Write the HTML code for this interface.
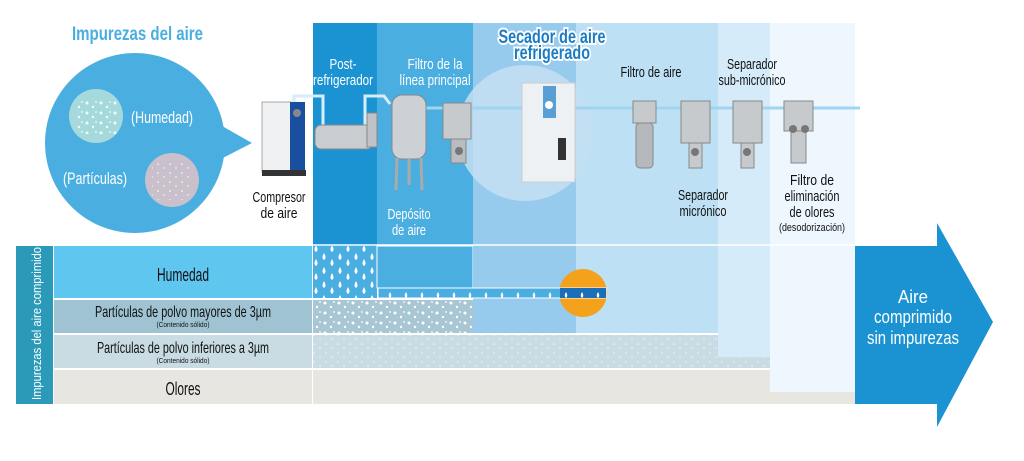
<!DOCTYPE html>
<html><head><meta charset="utf-8"><style>
html,body{margin:0;padding:0;background:#fff;width:1024px;height:461px;overflow:hidden}
svg{display:block;font-family:"Liberation Sans",sans-serif}
</style></head><body>
<svg width="1024" height="461" viewBox="0 0 1024 461" xmlns="http://www.w3.org/2000/svg">
<defs>
<pattern id="drops" width="16" height="14" patternUnits="userSpaceOnUse">
<path d="M4 1 q3 5 0 7 q-3 -2 0 -7z" fill="#fff"/>
<path d="M12 7 q3 5 0 7 q-3 -2 0 -7z" fill="#fff"/>
</pattern>
<pattern id="drops2" width="16" height="10" patternUnits="userSpaceOnUse">
<path d="M6 2 q2.5 4 0 6 q-2.5 -2 0 -6z" fill="#fff"/>
</pattern>
<pattern id="big" width="14" height="10" patternUnits="userSpaceOnUse">
<circle cx="3" cy="3" r="1.5" fill="#fff"/><circle cx="9" cy="7" r="1.2" fill="#fff"/><circle cx="12" cy="2" r="0.9" fill="#fff"/>
</pattern>
<pattern id="small" width="12" height="9" patternUnits="userSpaceOnUse">
<circle cx="2" cy="2" r="0.8" fill="#fff"/><circle cx="8" cy="6" r="0.7" fill="#fff"/>
</pattern>
</defs>
<rect width="1024" height="461" fill="#fff"/>
<rect x="313" y="23" width="64" height="223" fill="#1b93d3"/>
<rect x="377" y="23" width="96" height="223" fill="#4aaee0"/>
<rect x="473" y="23" width="103" height="223" fill="#97cbee"/>
<rect x="576" y="23" width="142" height="310" fill="#bde0f5"/>
<rect x="718" y="23" width="52" height="334" fill="#d5ebf9"/>
<rect x="770" y="23" width="85" height="369" fill="#eef7fe"/>
<circle cx="525" cy="133" r="68" fill="#c4dff2" opacity="0.85"/>
<line x1="313" y1="245" x2="855" y2="245" stroke="#fff" stroke-width="1.5"/>
<circle cx="135" cy="143" r="90" fill="#4aaee0"/>
<path d="M215 122 L252 143 L215 162z" fill="#4aaee0"/>
<circle cx="96" cy="116" r="27" fill="#a5d9dc"/>
<rect x="75" y="98" width="44" height="36" fill="url(#big)" opacity=".9"/>
<circle cx="172" cy="180" r="27" fill="#c9c0cc"/>
<rect x="152" y="162" width="40" height="38" fill="url(#small)"/>
<text x="72" y="40" font-size="19" font-weight="bold" fill="#4aaee0" textLength="131" lengthAdjust="spacingAndGlyphs">Impurezas del aire</text>
<text x="131" y="123" font-size="17" fill="#fff" textLength="62" lengthAdjust="spacingAndGlyphs">(Humedad)</text>
<text x="63" y="184" font-size="17" fill="#fff" textLength="64" lengthAdjust="spacingAndGlyphs">(Partículas)</text>
<path d="M294 102 V96 H323 V125 M365 125 V96 H384 L390 104" fill="none" stroke="#d6eefa" stroke-width="3"/>
<line x1="425" y1="108" x2="860" y2="108" stroke="#9fd5f0" stroke-width="3"/>
<rect x="262" y="102" width="29" height="70" fill="#eef0f2" stroke="#aaa"/>
<rect x="290" y="102" width="15" height="70" fill="#1a4f9f"/>
<circle cx="297" cy="113" r="4" fill="#888"/>
<rect x="262" y="170" width="44" height="6" fill="#333"/>
<rect x="315" y="125" width="58" height="24" rx="6" fill="#c9ccd0" stroke="#888"/>
<rect x="367" y="113" width="10" height="34" fill="#bfc2c6" stroke="#888"/>
<rect x="392" y="95" width="34" height="64" rx="10" fill="#cdd0d4" stroke="#888"/>
<path d="M397 158 L396 190 M421 158 L422 190 M409 158 V185" stroke="#aaa" stroke-width="3"/>
<rect x="443" y="103" width="28" height="36" fill="#c7cacd" stroke="#888"/>
<rect x="451" y="139" width="15" height="24" fill="#b9bcc0" stroke="#888"/>
<circle cx="459" cy="151" r="4" fill="#777"/>
<rect x="522" y="83" width="53" height="99" fill="#eef1f3" stroke="#ccc"/>
<rect x="543" y="86" width="13" height="32" fill="#5a9fd4"/>
<circle cx="549" cy="105" r="4" fill="#fff"/>
<rect x="558" y="138" width="8" height="22" fill="#333"/>
<rect x="633" y="101" width="23" height="22" fill="#c7cacd" stroke="#888"/>
<rect x="636" y="123" width="17" height="45" rx="4" fill="#b5b8bc" stroke="#888"/>
<g fill="#c7cacd" stroke="#888">
<rect x="681" y="101" width="29" height="42"/><rect x="689" y="143" width="13" height="25"/>
<rect x="733" y="101" width="29" height="42"/><rect x="741" y="143" width="13" height="25"/>
<rect x="784" y="101" width="29" height="30"/><rect x="791" y="131" width="15" height="32"/>
</g>
<circle cx="695" cy="152" r="4" fill="#777"/><circle cx="747" cy="152" r="4" fill="#777"/>
<circle cx="793" cy="129" r="4" fill="#777"/><circle cx="805" cy="129" r="4" fill="#777"/>
<g font-size="15" fill="#fff" text-anchor="middle">
<text x="343" y="69" textLength="27" lengthAdjust="spacingAndGlyphs">Post-</text><text x="343" y="85" textLength="60" lengthAdjust="spacingAndGlyphs">refrigerador</text>
<text x="435" y="69" textLength="55" lengthAdjust="spacingAndGlyphs">Filtro de la</text><text x="435" y="85" textLength="71" lengthAdjust="spacingAndGlyphs">línea principal</text>
<text x="409" y="219" textLength="43" lengthAdjust="spacingAndGlyphs">Depósito</text><text x="409" y="235" textLength="34" lengthAdjust="spacingAndGlyphs">de aire</text>
</g>
<g font-size="15" fill="#111" text-anchor="middle">
<text x="279" y="202" textLength="53" lengthAdjust="spacingAndGlyphs">Compresor</text><text x="279" y="218" textLength="37" lengthAdjust="spacingAndGlyphs">de aire</text>
<text x="651" y="77" textLength="61" lengthAdjust="spacingAndGlyphs">Filtro de aire</text>
<text x="752" y="69" textLength="50" lengthAdjust="spacingAndGlyphs">Separador</text><text x="752" y="85" textLength="67" lengthAdjust="spacingAndGlyphs">sub-micrónico</text>
<text x="703" y="200" textLength="50" lengthAdjust="spacingAndGlyphs">Separador</text><text x="703" y="216" textLength="47" lengthAdjust="spacingAndGlyphs">micrónico</text>
<text x="812" y="185" textLength="44" lengthAdjust="spacingAndGlyphs">Filtro de</text><text x="812" y="201" textLength="55" lengthAdjust="spacingAndGlyphs">eliminación</text><text x="812" y="217" textLength="45" lengthAdjust="spacingAndGlyphs">de olores</text>
<text x="812" y="231" font-size="11" textLength="66" lengthAdjust="spacingAndGlyphs">(desodorización)</text>
</g>
<g font-size="19" font-weight="bold" fill="#1b7cc4" text-anchor="middle" stroke="#fff" stroke-width="4" paint-order="stroke">
<text x="552" y="43" textLength="107" lengthAdjust="spacingAndGlyphs">Secador de aire</text><text x="552" y="59" textLength="76" lengthAdjust="spacingAndGlyphs">refrigerado</text>
</g>
<rect x="16" y="246" width="37" height="158" fill="#2a9ab8"/>
<text transform="translate(41,400) rotate(-90)" font-size="13" fill="#fff" textLength="153" lengthAdjust="spacingAndGlyphs">Impurezas del aire comprimido</text>
<rect x="54" y="246" width="258" height="52" fill="#5fc6ef"/>
<rect x="54" y="300" width="258" height="33" fill="#9fc3d3"/>
<rect x="54" y="335" width="258" height="33" fill="#c9dbe3"/>
<rect x="54" y="370" width="258" height="34" fill="#e7e6e0"/>
<g text-anchor="middle" fill="#111">
<text x="183" y="281" font-size="18" textLength="52" lengthAdjust="spacingAndGlyphs">Humedad</text>
<text x="183" y="317" font-size="16" textLength="176" lengthAdjust="spacingAndGlyphs">Partículas de polvo mayores de 3µm</text>
<text x="183" y="327" font-size="7" textLength="53" lengthAdjust="spacingAndGlyphs">(Contenido sólido)</text>
<text x="183" y="353" font-size="16" textLength="172" lengthAdjust="spacingAndGlyphs">Partículas de polvo inferiores a 3µm</text>
<text x="183" y="363" font-size="7" textLength="53" lengthAdjust="spacingAndGlyphs">(Contenido sólido)</text>
<text x="183" y="395" font-size="18" textLength="35" lengthAdjust="spacingAndGlyphs">Olores</text>
</g>
<rect x="313" y="246" width="64" height="52" fill="#4aaee0"/>
<rect x="313" y="246" width="64" height="52" fill="url(#drops)"/>
<rect x="377" y="246" width="96" height="42" fill="#4aaee0" stroke="#fff"/>
<rect x="313" y="300" width="160" height="33" fill="#a9c6d4"/>
<rect x="313" y="300" width="160" height="33" fill="url(#big)"/>
<rect x="473" y="246" width="103" height="87" fill="#97cbee"/>
<rect x="313" y="335" width="405" height="33" fill="#c9dbe3"/>
<rect x="718" y="357" width="52" height="11" fill="#c9dbe3"/>
<rect x="313" y="335" width="457" height="33" fill="url(#small)" opacity=".8"/>
<rect x="718" y="246" width="52" height="111" fill="#d5ebf9"/>
<rect x="313" y="370" width="457" height="34" fill="#e7e6e0"/>
<rect x="770" y="392" width="85" height="12" fill="#e7e6e0"/>
<circle cx="583" cy="293" r="24" fill="#f4a11c"/>
<rect x="378" y="288" width="228" height="10" fill="#4aaee0" stroke="#fff"/>
<rect x="378" y="288" width="228" height="10" fill="url(#drops2)"/>
<rect x="560" y="288" width="46" height="10" fill="#1b6fb8"/>
<rect x="560" y="288" width="46" height="10" fill="url(#drops2)"/>
<path d="M855 246 H937 V223 L993 322 L937 427 V404 H855z" fill="#1b93d3"/>
<g font-size="18" fill="#fff" text-anchor="middle">
<text x="913" y="303" textLength="30" lengthAdjust="spacingAndGlyphs">Aire</text><text x="913" y="323" textLength="78" lengthAdjust="spacingAndGlyphs">comprimido</text><text x="913" y="344" textLength="92" lengthAdjust="spacingAndGlyphs">sin impurezas</text>
</g>
</svg>
</body></html>
